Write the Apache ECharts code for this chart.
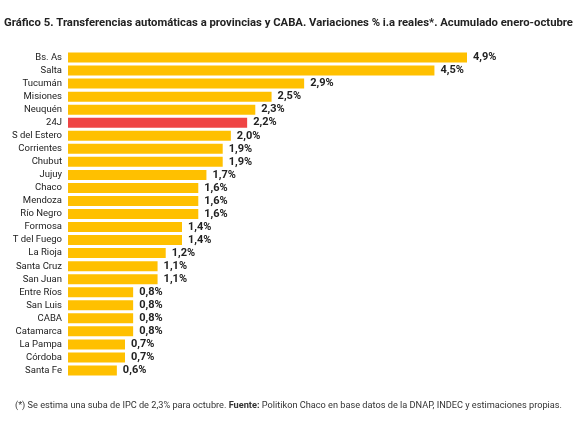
<!DOCTYPE html>
<html>
<head>
<meta charset="utf-8">
<script src="https://cdn.jsdelivr.net/npm/echarts@6/dist/echarts.min.js"></script>
<style>
  html, body { margin: 0; padding: 0; background: #fff; }
  #chart { width: 577px; height: 423px; }
</style>
</head>
<body>
<div id="chart"></div>
<script>
// datos (de arriba hacia abajo)
const provincias = ['Bs. As', 'Salta', 'Tucumán', 'Misiones', 'Neuquén', '24J', 'S del Estero',
    'Corrientes', 'Chubut', 'Jujuy', 'Chaco', 'Mendoza', 'Río Negro', 'Formosa', 'T del Fuego',
    'La Rioja', 'Santa Cruz', 'San Juan', 'Entre Ríos', 'San Luis', 'CABA', 'Catamarca',
    'La Pampa', 'Córdoba', 'Santa Fe'];
const variaciones = [4.9, 4.5, 2.9, 2.5, 2.3, 2.2, 2.0, 1.9, 1.9, 1.7, 1.6, 1.6, 1.6, 1.4, 1.4,
    1.2, 1.1, 1.1, 0.8, 0.8, 0.8, 0.8, 0.7, 0.7, 0.6];
const destacado = '24J';

const chart = echarts.init(document.getElementById('chart'));

const option = {
    animation: false,
    textStyle: { fontFamily: 'Roboto, sans-serif' },
    title: {
        text: 'Gráfico 5. Transferencias automáticas a provincias y CABA. Variaciones % i.a reales*. Acumulado enero-octubre',
        left: 'center',
        top: 13,
        textStyle: { fontSize: 11.3, fontWeight: 'bold', color: '#222', fontFamily: 'Roboto, sans-serif' }
    },
    graphic: [{
        type: 'text',
        left: 'center',
        top: 401,
        style: {
            rich: {
                n: { fontSize: 9.2, fill: '#333', fontFamily: 'Roboto' },
                b: { fontSize: 9.2, fill: '#333', fontWeight: 'bold', fontFamily: 'Roboto' }
            },
            text: '{n|(*) Se estima una suba de IPC de 2,3% para octubre. }{b|Fuente:}{n| Politikon Chaco en base datos de la DNAP, INDEC y estimaciones propias.}'
        }
    }],
    grid: { left: 68, right: 110, top: 51, bottom: 46 },
    xAxis: {
        type: 'value',
        min: 0,
        max: 4.9,
        show: false
    },
    yAxis: {
        type: 'category',
        data: provincias,
        inverse: true,
        axisLine: { show: false },
        axisTick: { show: false },
        axisLabel: { color: '#222', fontSize: 9.5, margin: 6 }
    },
    series: [{
        type: 'bar',
        barWidth: 10,
        data: variaciones.map((v, i) => ({
            value: v,
            itemStyle: { color: provincias[i] === destacado ? '#EF4444' : '#FFC000' }
        })),
        label: {
            show: true,
            position: 'right',
            distance: 6,
            fontSize: 11,
            fontWeight: 'bold',
            color: '#222',
            formatter: p => p.value.toFixed(1).replace('.', ',') + '%'
        }
    }]
};

chart.setOption(option);
</script>
</body>
</html>
